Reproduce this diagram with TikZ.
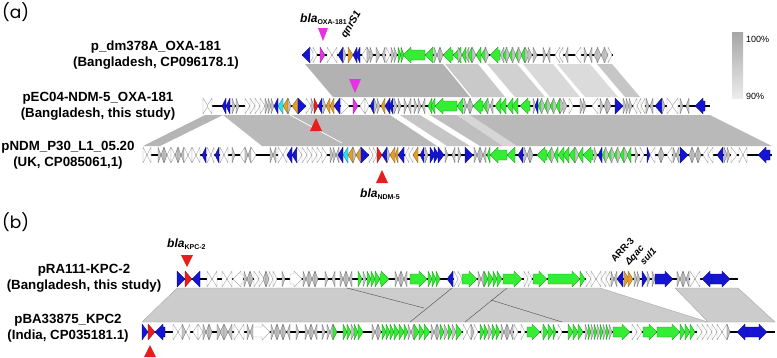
\documentclass[tikz,border=0pt]{standalone}
\usepackage{fontspec}
\setmainfont{Liberation Sans}
\newfontfamily\panelfont{Poppins}
\usetikzlibrary{positioning}
\definecolor{gw}{HTML}{FFFFFF}
\definecolor{gg}{HTML}{33EE33}
\definecolor{gb}{HTML}{1414D2}
\definecolor{go}{HTML}{E0A030}
\definecolor{gr}{HTML}{E81E1E}
\definecolor{gm}{HTML}{E632E6}
\definecolor{gc}{HTML}{30E0E8}
\definecolor{gk}{HTML}{C4C4C4}
\newcommand{\trackY}{0}
\newcommand{\gene}[4]{%
  \pgfmathsetmacro\headlen{min(#2,8)}%
  \pgfmathsetmacro\bodylen{#2-\headlen}%
  \ifnum#3>0
    \draw[genebox,fill=#4,draw=#4!60!black] (#1,\trackY-5) -- ++(\bodylen,0) -- ++(0,-3)
      -- ++(\headlen,8) -- ++(-\headlen,8) -- ++(0,-3) -- ++(-\bodylen,0) -- cycle;
  \else
    \draw[genebox,fill=#4,draw=#4!60!black] (#1+#2,\trackY-5) -- ++(-\bodylen,0) -- ++(0,-3)
      -- ++(-\headlen,8) -- ++(\headlen,8) -- ++(0,-3) -- ++(\bodylen,0) -- cycle;
  \fi}

\begin{document}
\begin{tikzpicture}[
  x=1pt,y=-1pt,
  genebox/.style={line width=0.35pt,line join=round},
  backbone/.style={line width=2.2pt,draw=black},
  tracklabel/.style={font=\bfseries\fontsize{13.3}{16}\selectfont,align=center,inner sep=0pt},
  panel/.style={font=\panelfont\fontsize{17}{20}\selectfont,inner sep=0pt},
  genelabel/.style={font=\bfseries\fontsize{12}{14}\selectfont,inner sep=0pt,anchor=base west},
  sublabel/.style={font=\bfseries\fontsize{9.5}{11}\selectfont,inner sep=0pt,anchor=base west,rotate=48},
  scalelabel/.style={font=\fontsize{9}{10}\selectfont,inner sep=0pt,anchor=west}
]
\useasboundingbox (0,0) rectangle (777,357);

\fill[gray!60] (305,64) -- (443,64) -- (470,97) -- (333,97) -- cycle;
\fill[gray!42] (445,64) -- (478,64) -- (505,97) -- (472,97) -- cycle;
\fill[gray!36] (487,64) -- (517,64) -- (545,97) -- (515,97) -- cycle;
\fill[gray!30] (523,64) -- (553,64) -- (580,97) -- (550,97) -- cycle;
\fill[gray!28] (557,64) -- (590,64) -- (618,97) -- (585,97) -- cycle;
\fill[gray!45] (597,64) -- (612,64) -- (640,97) -- (625,97) -- cycle;

\fill[gray!58] (205,115) -- (223,115) -- (160,146) -- (143,146) -- cycle;
\fill[gray!55] (223,115) -- (390,115) -- (437,146) -- (262,146) -- cycle;
\draw[white,line width=0.7pt] (290,115) -- (342,143);
\fill[gray!45] (400,115) -- (420,115) -- (470,146) -- (447,146) -- cycle;
\fill[gray!50] (430,115) -- (457,115) -- (503,146) -- (480,146) -- cycle;
\fill[gray!32] (457,115) -- (470,115) -- (517,146) -- (503,146) -- cycle;
\fill[gray!55] (470,115) -- (710,115) -- (772,146) -- (517,146) -- cycle;

\fill[gray!40,draw=gray!75,line width=0.3pt] (177,288) -- (600,288) -- (708,322) -- (142,322) -- cycle;
\fill[gray!40,draw=gray!75,line width=0.3pt] (675,288) -- (738,288) -- (775,322) -- (708,322) -- cycle;
\draw[gray!60!black,line width=0.4pt] (347,288) -- (424,308);
\draw[gray!60!black,line width=0.4pt] (410,322) -- (452,288);
\draw[gray!60!black,line width=0.4pt] (465,322) -- (507,288);
\draw[gray!60!black,line width=0.4pt] (491,300) -- (562,322);

\renewcommand{\trackY}{55}
\draw[backbone] (302,\trackY) -- (613,\trackY);
\foreach \x/\l/\d/\c in {302/8/-1/gb,310/4/1/gw,313/4/1/gw,320/5/1/gm,327/5/1/gw,332/5/-1/gw,
  338/5/-1/gb,343/3/1/gk,348/5/1/go,353/4/-1/gb,356/4/-1/gb,362/5/-1/gw,367/4/1/gk,370/3/1/gk,
  376/4/1/gk,382/3/-1/gk,386/4/1/gw,391/3/1/gk,394/3/1/gk,398/3/1/gg,401/3/1/gg,403/22/-1/gg,
  425/8/-1/gg,434/3/1/gk,437/3/-1/gk,440/3/1/gk,443/10/-1/gg,453/8/-1/gg,458/4/1/gk,462/4/-1/gg,
  465/4/-1/gk,468/4/-1/gg,472/4/1/gk,476/5/-1/gg,481/5/-1/gg,485/4/1/gk,490/10/-1/gg,500/4/-1/gk,
  503/4/-1/gg,506/4/1/gk,509/4/-1/gg,512/4/1/gk,515/4/-1/gg,518/4/1/gk,521/4/-1/gg,525/4/1/gk,
  528/4/1/gk,533/4/1/gk,543/3/1/gk,547/3/-1/gk,555/5/-1/gw,559/4/-1/gw,565/3/-1/gk,575/6/-1/gw,
  584/3/1/gk,589/3/-1/gk,594/4/-1/gk,597/4/1/gk,601/4/-1/gk,604/4/1/gk,608/4/1/gw}
  {\gene{\x}{\l}{\d}{\c}}

\renewcommand{\trackY}{106}
\draw[backbone] (203,\trackY) -- (710,\trackY);
\foreach \x/\l/\d/\c in {203/5/1/gw,207/5/-1/gw,222/4/-1/gb,226/4/-1/gb,232/3/1/gk,236/3/1/gk,
  245/5/1/gw,250/5/1/gw,255/5/1/gw,260/5/1/gw,265/3/1/gk,268/3/1/gk,271/3/1/gk,274/4/-1/gb,
  278/5/-1/gc,283/5/-1/go,288/3/1/gk,292/6/-1/go,298/8/1/gb,306/5/1/gw,311/3/1/gk,314/4/1/gr,
  318/4/-1/gb,323/3/1/gk,326/4/-1/go,330/4/-1/go,334/6/-1/gb,341/8/1/gw,353/5/1/gm,360/5/-1/gw,
  365/4/1/gw,370/4/-1/gb,374/3/1/gk,377/3/1/gk,381/4/-1/go,385/5/-1/gb,389/4/-1/gb,394/3/1/gk,
  398/3/1/gk,404/3/1/gk,408/3/-1/gk,414/3/1/gk,418/3/1/gk,422/3/-1/gk,428/4/-1/gg,431/4/-1/gg,
  435/22/-1/gg,457/6/-1/gg,464/3/1/gk,467/3/-1/gk,470/3/1/gk,473/10/-1/gg,483/5/-1/gg,487/3/1/gk,
  490/3/-1/gk,495/6/-1/gg,500/6/-1/gg,507/6/-1/gg,512/6/-1/gg,520/10/-1/gg,533/3/1/gk,535/3/-1/gb,
  538/4/-1/gg,541/4/1/gk,544/4/-1/gg,547/4/1/gk,550/4/-1/gg,553/4/1/gk,556/4/-1/gg,560/4/1/gk,
  563/4/1/gk,569/4/1/gw,580/3/1/gk,583/3/1/gk,592/6/-1/gw,600/3/1/gk,604/3/-1/gk,607/4/1/gk,
  615/8/1/gb,623/3/1/gk,626/3/1/gk,629/3/1/gk,633/4/-1/gw,637/4/-1/gw,641/4/-1/gw,646/3/1/gk,
  650/3/-1/gk,655/7/-1/gb,662/3/1/gk,667/6/1/gw,672/6/-1/gw,680/3/1/gk,686/3/-1/gk,695/10/-1/gb}
  {\gene{\x}{\l}{\d}{\c}}

\renewcommand{\trackY}{155}
\draw[backbone] (143,\trackY) -- (772,\trackY);
\foreach \x/\l/\d/\c in {143/4/1/gw,147/4/-1/gw,158/3/1/gk,161/3/-1/gk,164/3/1/gk,167/4/-1/gw,
  171/4/1/gw,175/3/-1/gk,178/3/1/gk,181/3/-1/gk,184/4/1/gw,188/4/-1/gw,192/4/1/gw,196/4/-1/gw,
  202/4/-1/gb,207/4/1/gw,211/3/-1/gw,215/4/-1/gb,220/4/1/gw,224/4/-1/gw,232/3/1/gk,240/5/-1/gw,
  245/3/1/gk,248/3/-1/gk,251/5/1/gw,270/3/1/gk,273/3/-1/gk,278/5/1/gw,283/4/-1/gw,287/5/-1/gb,
  292/5/-1/gb,297/5/1/gw,302/5/1/gw,307/5/1/gw,312/5/1/gw,317/5/1/gw,322/5/1/gw,330/3/1/gk,
  333/3/1/gk,336/3/-1/gk,338/5/-1/gb,343/5/-1/gc,348/5/-1/go,353/3/1/gk,356/5/-1/go,361/8/1/gb,
  369/4/1/gw,373/4/1/gw,377/5/1/gr,382/5/-1/gb,387/3/1/gk,390/5/-1/go,395/3/-1/go,398/6/-1/gb,
  405/4/-1/gw,409/4/-1/gw,413/5/-1/go,420/4/-1/gb,425/3/1/gk,430/5/1/gb,434/5/1/gb,438/6/1/gb,
  445/3/1/gk,452/3/-1/gk,458/3/1/gk,465/8/1/gb,474/3/1/gk,477/3/-1/gk,480/3/1/gk,483/3/-1/gk,
  487/3/-1/gg,490/17/-1/gg,507/8/-1/gg,518/5/-1/gb,524/3/1/gk,527/3/-1/gk,530/3/1/gk,537/10/-1/gg,
  547/5/-1/gg,551/4/1/gk,554/4/-1/gg,558/6/-1/gg,563/6/-1/gg,569/6/-1/gg,575/4/1/gk,578/5/-1/gg,
  583/10/-1/gg,594/3/1/gk,598/4/-1/gb,602/4/-1/gg,605/4/1/gk,608/4/-1/gg,611/4/1/gk,614/4/-1/gg,
  617/4/1/gk,620/4/-1/gg,624/4/1/gk,627/4/-1/gg,635/3/1/gk,640/4/1/gw,647/3/1/gb,650/5/-1/gw,
  658/3/-1/gk,661/3/1/gk,667/5/-1/gw,673/3/1/gk,676/3/-1/gk,680/8/1/gb,689/3/-1/gk,692/3/1/gk,
  695/3/-1/gk,698/3/1/gk,703/5/-1/gw,708/5/-1/gw,717/6/-1/gb,724/3/1/gk,727/3/1/gk,731/6/1/gw,
  739/4/1/gw,743/4/-1/gw,758/12/-1/gb}
  {\gene{\x}{\l}{\d}{\c}}

\renewcommand{\trackY}{279}
\draw[backbone] (177,\trackY) -- (738,\trackY);
\foreach \x/\l/\d/\c in {177/8/1/gb,185/7/1/gr,192/8/-1/gb,207/5/1/gw,212/5/-1/gw,222/5/1/gw,
  227/5/-1/gw,233/10/-1/gw,244/3/1/gk,247/3/-1/gk,250/3/1/gk,254/5/1/gw,259/5/1/gw,263/3/-1/gk,
  266/3/1/gk,269/4/1/gw,273/4/1/gw,282/3/1/gk,290/12/1/gw,303/3/1/gk,306/3/-1/gk,309/3/1/gk,
  312/3/-1/gk,315/3/1/gk,325/3/1/gk,332/3/-1/gk,340/3/1/gk,343/3/-1/gk,346/3/1/gk,349/3/-1/gk,
  358/4/1/gg,363/3/1/gk,367/4/1/gg,371/4/1/gg,375/5/1/gg,380/9/1/gg,395/3/1/gk,398/3/-1/gk,
  401/3/1/gk,404/3/-1/gk,410/17/1/gg,428/4/1/gg,432/4/1/gg,436/4/1/gg,447/6/-1/gb,454/4/1/gw,
  458/4/1/gw,462/15/1/gg,478/3/1/gk,481/3/-1/gk,484/4/1/gg,488/5/1/gg,493/4/1/gg,497/5/1/gg,
  503/19/1/gg,524/4/1/gw,528/4/1/gw,533/14/1/gg,548/32/1/gg,580/5/1/gg,586/5/1/gw,591/5/1/gw,
  596/5/-1/gw,601/5/-1/gw,606/4/-1/gw,611/3/1/gk,614/3/-1/gk,617/6/-1/gb,624/5/1/go,628/5/1/go,
  634/3/1/gk,637/3/1/gk,642/5/1/gb,647/3/1/gk,652/3/1/gk,655/18/1/gb,677/3/1/gk,680/3/-1/gk,
  683/3/1/gk,686/3/-1/gk,690/5/1/gw,695/5/-1/gw,702/10/-1/gb,712/18/1/gb}
  {\gene{\x}{\l}{\d}{\c}}

\renewcommand{\trackY}{332}
\draw[backbone] (142,\trackY) -- (775,\trackY);
\foreach \x/\l/\d/\c in {142/6/1/gb,148/7/1/gr,155/10/-1/gb,173/5/1/gw,178/5/-1/gw,182/4/1/gk,
  186/4/-1/gw,193/5/-1/gw,198/5/1/gw,203/3/1/gk,206/3/-1/gk,209/3/1/gk,217/4/1/gk,220/4/-1/gk,
  224/4/1/gk,228/4/-1/gk,234/5/1/gw,239/5/-1/gw,247/3/1/gk,250/3/-1/gk,253/17/1/gw,271/3/1/gk,
  274/3/-1/gk,277/3/1/gk,280/3/-1/gk,283/3/1/gk,287/3/-1/gk,296/3/1/gk,305/3/1/gk,308/3/-1/gk,
  311/3/1/gk,314/3/-1/gk,322/3/1/gk,327/3/1/gk,330/3/-1/gk,333/4/1/gg,343/4/1/gg,347/4/1/gg,
  351/4/1/gk,354/4/1/gg,358/5/1/gg,372/3/1/gk,375/3/-1/gk,378/3/1/gk,382/4/1/gg,386/4/1/gg,
  390/4/1/gg,394/5/1/gg,399/5/1/gg,404/4/1/gg,408/3/1/gk,411/3/-1/gk,414/5/1/gg,419/5/1/gg,
  424/6/1/gg,431/3/1/gk,434/3/-1/gk,437/3/1/gk,440/4/1/gg,444/4/1/gk,448/4/1/gg,452/4/1/gk,
  456/6/1/gg,463/4/1/gw,467/4/-1/gw,471/3/1/gk,474/4/1/gw,480/4/1/gg,484/4/1/gg,488/4/1/gk,
  492/4/1/gg,496/4/1/gg,501/3/1/gk,504/3/-1/gk,507/3/1/gk,510/3/-1/gk,514/4/1/gw,521/4/1/gw,
  527/13/1/gg,541/3/-1/gw,543/5/1/gg,548/5/1/gg,553/3/1/gg,558/4/1/gw,568/5/1/gg,573/5/1/gg,
  578/5/1/gg,585/3/1/gk,588/3/1/gg,591/3/1/gk,594/3/1/gg,597/3/1/gk,600/3/1/gg,603/3/1/gk,
  606/3/1/gg,609/3/1/gk,613/17/1/gg,632/5/1/gw,637/5/1/gw,643/14/1/gg,657/23/1/gg,680/5/1/gg,
  685/5/1/gg,690/5/1/gg,697/5/1/gw,702/5/1/gw,707/5/1/gw,712/5/1/gw,717/5/1/gw,722/5/-1/gw,
  727/3/1/gk,737/10/-1/gb,747/20/1/gb}
  {\gene{\x}{\l}{\d}{\c}}

\fill[gm] (318,28) -- (328,28) -- (323,41) -- cycle;
\fill[gm] (349,79) -- (361,79) -- (355,93) -- cycle;
\fill[gr] (310,131) -- (322,131) -- (316,118) -- cycle;
\fill[gr] (376,183) -- (388,183) -- (382,170) -- cycle;
\fill[gr] (181,255) -- (193,255) -- (187,267) -- cycle;
\fill[gr] (144,357) -- (156,357) -- (150,345) -- cycle;

\shade[top color=gray!70,bottom color=gray!15] (732,32) rectangle (743,98);
\node[scalelabel] (pcthigh) at (746,39) {100\%};
\node[scalelabel] (pctlow) at (746,96) {90\%};

\node[panel,anchor=west] (panela) at (2,12) {(a)};
\node[panel,anchor=west] (panelb) at (2,222) {(b)};

\node[tracklabel] (dmlabel) at (156,55) {p\_dm378A\_OXA-181\\(Bangladesh, CP096178.1)};
\node[tracklabel] (peclabel) at (98,106) {pEC04-NDM-5\_OXA-181\\(Bangladesh, this study)};
\node[tracklabel] (ndmlabel) at (68,155) {pNDM\_P30\_L1\_05.20\\(UK, CP085061,1)};
\node[tracklabel] (ralabel) at (84,278) {pRA111-KPC-2\\(Bangladesh, this study)};
\node[tracklabel] (balabel) at (68,328) {pBA33875\_KPC2\\(India, CP035181.1)};

\node[genelabel] (oxalabel) at (300,22) {\textit{bla}\raisebox{-2.5pt}{\fontsize{7}{8}\selectfont OXA-181}};
\node[genelabel,font=\bfseries\itshape\fontsize{10.5}{12}\selectfont,rotate=60] (qnrlabel) at (346,39) {qnrS1};
\node[genelabel] (ndmgene) at (360,197) {\textit{bla}\raisebox{-2.5pt}{\fontsize{7}{8}\selectfont NDM-5}};
\node[genelabel] (kpcgene) at (167,247) {\textit{bla}\raisebox{-2.5pt}{\fontsize{7}{8}\selectfont KPC-2}};
\node[sublabel] (arrlabel) at (615,263) {ARR-3};
\node[sublabel] (qaclabel) at (629,266) {\textit{Δqac}};
\node[sublabel] (sullabel) at (644,266) {\textit{sul1}};
\end{tikzpicture}
\end{document}
